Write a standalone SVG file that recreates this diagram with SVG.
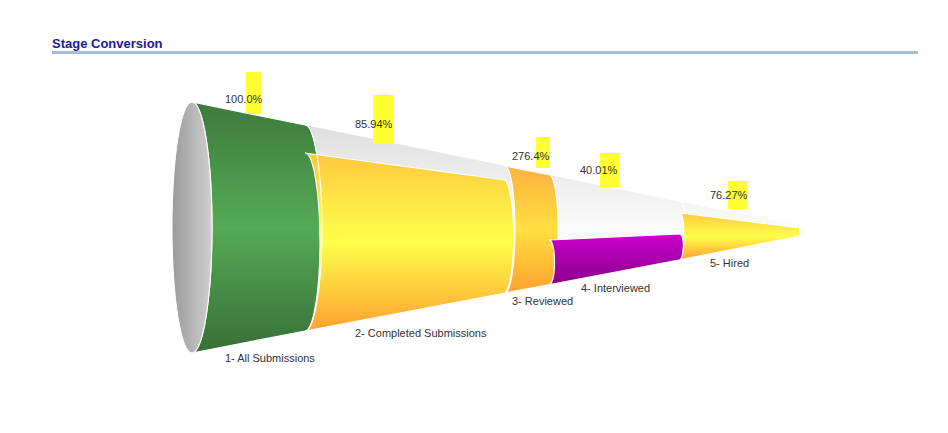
<svg xmlns="http://www.w3.org/2000/svg" width="948" height="433" viewBox="0 0 948 433">
<style>
.t{font-family:"Liberation Sans",Arial,sans-serif;font-size:11px;fill:#333}
.hl{fill:#ffff33}
.seg{stroke:#fff;stroke-width:1.2}
</style>
<defs>
<linearGradient id="gCone" x1="0" y1="0" x2="0" y2="1"><stop offset="0" stop-color="#d8d8d8"/><stop offset="0.5" stop-color="#fbfbfb"/><stop offset="1" stop-color="#eee"/></linearGradient>
<linearGradient id="gGreen" x1="0" y1="0" x2="0" y2="1"><stop offset="0" stop-color="#3c7a3c"/><stop offset="0.5" stop-color="#55aa55"/><stop offset="1" stop-color="#376f37"/></linearGradient>
<linearGradient id="gYel" x1="0" y1="0" x2="0" y2="1"><stop offset="0" stop-color="#ffc840"/><stop offset="0.5" stop-color="#ffff4a"/><stop offset="1" stop-color="#ffa030"/></linearGradient>
<linearGradient id="gOra" x1="0" y1="0" x2="0" y2="1"><stop offset="0" stop-color="#ffb040"/><stop offset="0.5" stop-color="#ffe040"/><stop offset="1" stop-color="#ffa030"/></linearGradient>
<linearGradient id="gPur" x1="0" y1="0" x2="0" y2="1"><stop offset="0" stop-color="#cc00cc"/><stop offset="1" stop-color="#8a008a"/></linearGradient>
<linearGradient id="gEnd" x1="0" y1="0" x2="1" y2="0"><stop offset="0" stop-color="#9a9a9a"/><stop offset="1" stop-color="#d0d0d0"/></linearGradient>
</defs>
<text x="52" y="48" style="font-family:'Liberation Sans',Arial,sans-serif;font-size:13px;font-weight:bold;fill:#1a1a99">Stage Conversion</text>
<rect x="52" y="51" width="866" height="3" fill="#a8bcd6"/>
<g id="cone">
<path d="M192,102 L800,226 L800,237 L192,353 Z" fill="url(#gCone)"/>
</g>
<g id="stage1">
<path class="seg" d="M192,102 L305,125 A17,103 0 0 1 305,331 L192,353 A20,125.5 0 0 0 192,102 Z" fill="url(#gGreen)"/>
<ellipse cx="192" cy="227.5" rx="20" ry="125.5" fill="url(#gEnd)" stroke="#fff" stroke-width="1"/>
</g>
<g id="stage2">
<path class="seg" d="M305,153 L505,180 A10,57 0 0 1 505,293 L305,331 A15,89 0 0 0 305,153 Z" fill="url(#gYel)"/>
<path d="M305,125 A17,103 0 0 1 305,331" fill="none" stroke="#fff" stroke-width="1.2"/>
</g>
<g id="stage3">
<path class="seg" d="M505,166 L550,175 A9,55 0 0 1 550,284.6 L505,293 A10,63.5 0 0 0 505,166 Z" fill="url(#gOra)"/>
</g>
<g id="stage4">
<path class="seg" d="M550,240 L680,234 A4,13 0 0 1 680,259.8 L550,284.6 A6,23 0 0 0 550,240 Z" fill="url(#gPur)"/>
<path d="M680,201.6 A6,29 0 0 1 680,259.8" fill="none" stroke="#fff" stroke-width="1.2"/>
</g>
<g id="stage5">
<path class="seg" d="M680,213 L800,228 L800,236 L680,259.8 A4,23.4 0 0 0 680,213 Z" fill="url(#gYel)"/>
</g>
<g id="labels">
<rect class="hl" x="246" y="72" width="15" height="42"/>
<rect class="hl" x="373" y="95" width="20" height="49"/>
<rect class="hl" x="536" y="137" width="14" height="31"/>
<rect class="hl" x="600" y="153" width="20" height="34"/>
<rect class="hl" x="728" y="181" width="19" height="28"/>
<text class="t" x="225" y="103">100.0%</text>
<text class="t" x="355" y="128">85.94%</text>
<text class="t" x="512" y="160">276.4%</text>
<text class="t" x="580" y="174">40.01%</text>
<text class="t" x="710" y="199">76.27%</text>
<text class="t" x="225" y="362">1- All Submissions</text>
<text class="t" x="355" y="337">2- Completed Submissions</text>
<text class="t" x="512" y="305">3- Reviewed</text>
<text class="t" x="581" y="292">4- Interviewed</text>
<text class="t" x="710" y="267">5- Hired</text>
</g>
</svg>
